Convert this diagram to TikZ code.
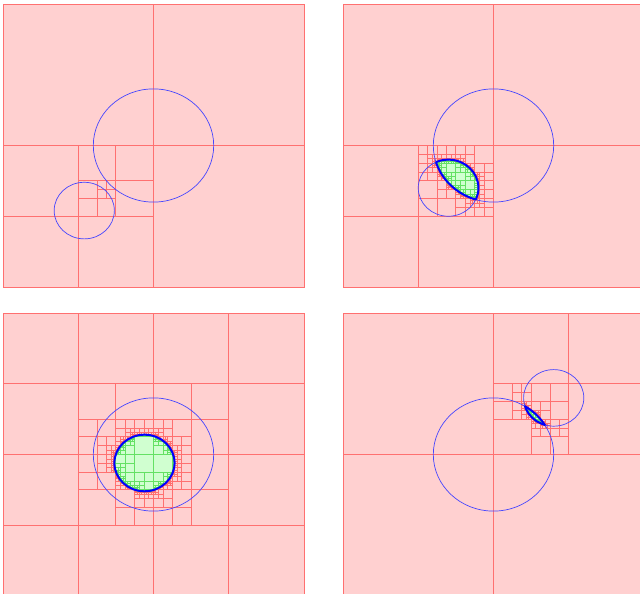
\documentclass[tikz,border=0pt]{standalone}
\definecolor{cellpink}{RGB}{255,208,208}
\definecolor{cellred}{RGB}{255,112,112}
\definecolor{cellgreen}{RGB}{208,255,208}
\definecolor{cellline}{RGB}{100,225,100}
\definecolor{ringblue}{RGB}{70,70,255}
\newcommand{\qmax}{8}
% one quadtree cell: x0, y0, size, depth
\newcommand{\qcell}[4]{%
  \begingroup
  \pgfmathsetmacro\qx{#1}%
  \pgfmathsetmacro\qy{#2}%
  \pgfmathsetmacro\qs{#3}%
  \pgfmathsetmacro\qe{\qx+\qs}%
  \pgfmathsetmacro\qf{\qy+\qs}%
  \pgfmathsetmacro\qdx{max(\qx-\rax,0,\rax-\qe)}%
  \pgfmathsetmacro\qdy{max(\qy-\ray,0,\ray-\qf)}%
  \pgfmathsetmacro\qna{\qdx*\qdx+\qdy*\qdy}%
  \pgfmathsetmacro\qdx{max(abs(\qx-\rax),abs(\qe-\rax))}%
  \pgfmathsetmacro\qdy{max(abs(\qy-\ray),abs(\qf-\ray))}%
  \pgfmathsetmacro\qfa{\qdx*\qdx+\qdy*\qdy}%
  \pgfmathsetmacro\qdx{max(\qx-\rbx,0,\rbx-\qe)}%
  \pgfmathsetmacro\qdy{max(\qy-\rby,0,\rby-\qf)}%
  \pgfmathsetmacro\qnb{\qdx*\qdx+\qdy*\qdy}%
  \pgfmathsetmacro\qdx{max(abs(\qx-\rbx),abs(\qe-\rbx))}%
  \pgfmathsetmacro\qdy{max(abs(\qy-\rby),abs(\qf-\rby))}%
  \pgfmathsetmacro\qfb{\qdx*\qdx+\qdy*\qdy}%
  \pgfmathtruncatemacro\qout{(\qna>=\rar*\rar)||(\qnb>=\rbr*\rbr)}%
  \pgfmathtruncatemacro\qin{(\qfa<=\rar*\rar)&&(\qfb<=\rbr*\rbr)}%
  \ifnum\qout=1
    \path[pinkcell] (\qx,\qy) rectangle (\qe,\qf);
  \else\ifnum\qin=1
    \path[greencell] (\qx,\qy) rectangle (\qe,\qf);
  \else\ifnum#4<\qmax
    \pgfmathsetmacro\qh{\qs/2}%
    \pgfmathsetmacro\qm{\qx+\qh}%
    \pgfmathsetmacro\qn{\qy+\qh}%
    \pgfmathtruncatemacro\qd{#4+1}%
    \qcell{\qx}{\qy}{\qh}{\qd}%
    \qcell{\qm}{\qy}{\qh}{\qd}%
    \qcell{\qx}{\qn}{\qh}{\qd}%
    \qcell{\qm}{\qn}{\qh}{\qd}%
  \else
    % last level: test the centre
    \pgfmathsetmacro\qdx{\qx+\qs/2-\rax}%
    \pgfmathsetmacro\qdy{\qy+\qs/2-\ray}%
    \pgfmathsetmacro\qna{\qdx*\qdx+\qdy*\qdy}%
    \pgfmathsetmacro\qdx{\qx+\qs/2-\rbx}%
    \pgfmathsetmacro\qdy{\qy+\qs/2-\rby}%
    \pgfmathsetmacro\qnb{\qdx*\qdx+\qdy*\qdy}%
    \pgfmathtruncatemacro\qin{(\qna<\rar*\rar)&&(\qnb<\rbr*\rbr)}%
    \ifnum\qin=1
      \path[greencell] (\qx,\qy) rectangle (\qe,\qf);
    \else
      \path[pinkcell] (\qx,\qy) rectangle (\qe,\qf);
    \fi
  \fi\fi\fi
  \endgroup}
\begin{document}
\begin{tikzpicture}[x=1pt, y=1pt,
    pinkcell/.style={fill=cellpink, draw=cellred, line width=0.8pt},
    greencell/.style={fill=cellgreen, draw=cellline, line width=0.8pt},
    ring/.style={draw=ringblue, line width=0.7pt},
    lens/.style={draw=blue, line width=2pt},
    ]
    \useasboundingbox (0,0) rectangle (640,594);
    \clip (0,0) rectangle (640,594);

    \foreach \px/\py/\sc in {3/307/27, 343/307/35, 3/-2/47, 343/-2/70} {
        \begin{scope}[shift={(\px pt,\py pt)}, x=3.01pt, y=2.83pt]
            \def\rax{50}\def\ray{50}\def\rar{20}
            \edef\rbx{\sc}\edef\rby{\sc}\def\rbr{10}
            \qcell{0}{0}{100}{0}
            \draw[ring] (\rax,\ray) circle [radius=\rar];
            \draw[ring] (\rbx,\rby) circle [radius=\rbr];
            \begin{scope}
                \clip (\rbx,\rby) circle [radius=\rbr];
                \draw[lens] (\rax,\ray) circle [radius=\rar];
            \end{scope}
            \begin{scope}
                \clip (\rax,\ray) circle [radius=\rar];
                \draw[lens] (\rbx,\rby) circle [radius=\rbr];
            \end{scope}
        \end{scope}
    }
\end{tikzpicture}
\end{document}
